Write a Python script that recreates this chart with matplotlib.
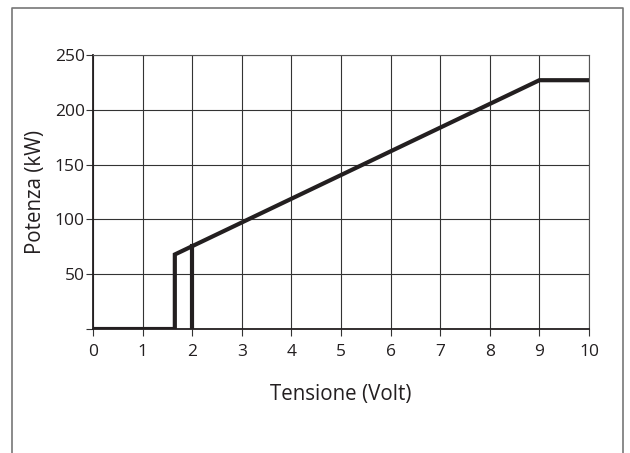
import matplotlib.pyplot as plt
from matplotlib.lines import Line2D

# Data
tensione = [0, 1.65, 1.65, 9, 10]
potenza = [0, 0, 68, 227, 227]
soglia_x = [2, 2]
soglia_y = [0, 75.5]

x_ticks = list(range(0, 11))
y_ticks = [50, 100, 150, 200, 250]

plt.rcParams['font.family'] = ['Open Sans', 'DejaVu Sans']

fig = plt.figure(figsize=(6.3, 4.53), dpi=100)
ax = fig.add_axes([0.1476, 0.2737, 0.7873, 0.6049])

ax.plot(tensione, potenza, color='#231f20', lw=3.0, solid_joinstyle='miter', zorder=3)
ax.plot(soglia_x, soglia_y, color='#231f20', lw=3.0, zorder=3)

ax.set_xlim(0, 10)
ax.set_ylim(0, 250)
ax.set_xticks(x_ticks)
ax.set_yticks([0] + y_ticks)
ax.set_yticklabels([''] + [str(v) for v in y_ticks])
ax.grid(True, color='#333333', lw=0.8)
ax.tick_params(axis='both', direction='out', length=5, width=0.8, color='#333333',
               labelsize=12.5, labelcolor='#231f20')
ax.tick_params(axis='x', pad=6)
ax.tick_params(axis='y', pad=1)

for side in ['left', 'bottom']:
    ax.spines[side].set_linewidth(1.3)
    ax.spines[side].set_color('#231f20')
for side in ['top', 'right']:
    ax.spines[side].set_linewidth(0.8)
    ax.spines[side].set_color('#555555')

ax.set_xlabel('Tensione (Volt)', fontsize=14.8, color='#231f20', labelpad=17)
ax.set_ylabel('Potenza (kW)', fontsize=14.8, color='#231f20', labelpad=6)

# Outer frame (open at bottom)
frame = Line2D([0.019, 0.019, 0.989, 0.989], [0.0, 0.983, 0.983, 0.0],
               transform=fig.transFigure, color='#777777', lw=1.2)
fig.add_artist(frame)

fig.savefig('out.png', dpi=100)
